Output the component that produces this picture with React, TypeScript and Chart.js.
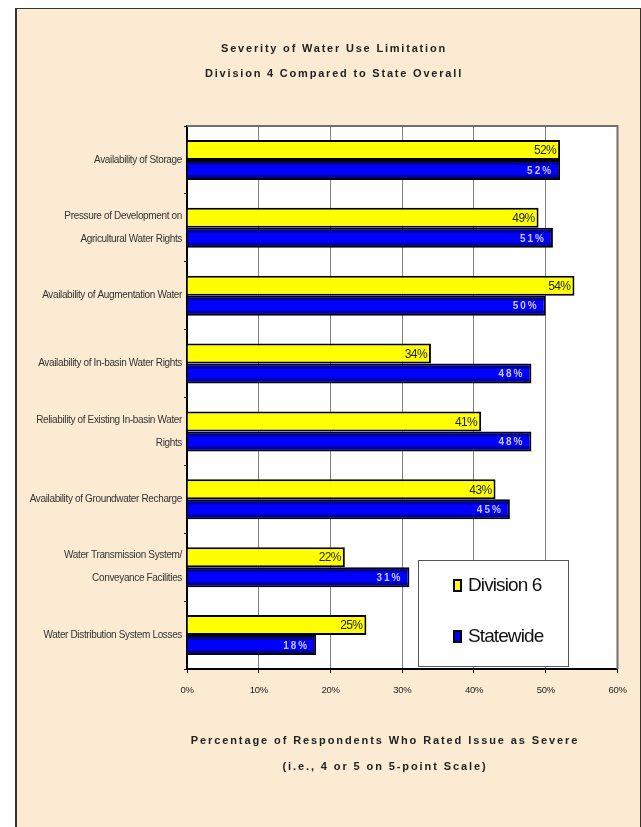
import React, { useEffect, useRef } from "react";
import { Chart, registerables } from "chart.js";

Chart.register(...registerables);

const categories: (string | string[])[] = [
  "Availability of Storage",
  ["Pressure of Development on", "Agricultural Water Rights"],
  "Availability of Augmentation Water",
  "Availability of In-basin Water Rights",
  ["Reliability of Existing In-basin Water", "Rights"],
  "Availability of Groundwater Recharge",
  ["Water Transmission System/", "Conveyance Facilities"],
  "Water Distribution System Losses",
];
const division6 = [52, 49, 54, 34, 41, 43, 22, 25];
const statewide = [52, 51, 50, 48, 48, 45, 31, 18];
const seriesNames = ["Division 6", "Statewide"];
const seriesColors = ["#FFFF00", "#0000FF"];
const titleLines = ["Severity of Water Use Limitation", "Division 4 Compared to State Overall"];
const axisTitleLines = [
  "Percentage of Respondents Who Rated Issue as Severe",
  "(i.e., 4 or 5 on 5-point Scale)",
];
const xTicks = [0, 10, 20, 30, 40, 50, 60];

const NARROW = "'Liberation Sans Narrow', 'Arial Narrow', 'Liberation Sans', Arial, sans-serif";
const SANS = "'Liberation Sans', Arial, sans-serif";

const W = 623;
const H = 818;

const decorPlugin = {
  id: "decor",
  beforeDraw(chart: any) {
    const { ctx, chartArea: a } = chart;
    ctx.save();
    ctx.fillStyle = "#FFFFFF";
    ctx.fillRect(a.left, a.top, a.right - a.left, a.bottom - a.top);
    ctx.restore();
    // slightly condensed look for the axis tick labels drawn by the scales
    (ctx as any).letterSpacing = "-0.35px";
  },
  afterDatasetDraw(chart: any, args: any) {
    if (args.index !== 1) return;
    const { ctx } = chart;
    const meta = chart.getDatasetMeta(1);
    ctx.save();
    ctx.fillStyle = "#00009A";
    meta.data.forEach((el: any) => {
      const p = el.getProps(["x", "y", "base", "height"], true);
      const left = Math.min(p.base, p.x);
      const w = Math.abs(p.x - p.base) - 2;
      const top = p.y - p.height / 2 + 2;
      const bot = p.y + p.height / 2 - 2;
      ctx.fillRect(left, top, w, 3);
      ctx.fillRect(left, bot - 3, w, 3);
    });
    ctx.restore();
  },
  afterDatasetsDraw(chart: any) {
    const { ctx } = chart;
    ctx.save();
    chart.data.datasets.forEach((ds: any, di: number) => {
      const meta = chart.getDatasetMeta(di);
      meta.data.forEach((el: any, i: number) => {
        const p = el.getProps(["x", "y"], true);
        const txt = ds.data[i] + "%";
        ctx.textAlign = "right";
        ctx.textBaseline = "middle";
        if (di === 0) {
          ctx.font = `12px ${NARROW}`;
          ctx.fillStyle = "#222222";
          (ctx as any).letterSpacing = "-0.6px";
          ctx.fillText(txt, p.x - 4, p.y + 1);
        } else {
          ctx.font = `bold 10px ${SANS}`;
          ctx.fillStyle = "#C8C8FF";
          (ctx as any).letterSpacing = "2px";
          ctx.fillText(txt, p.x - 7, p.y + 1);
        }
      });
    });
    ctx.restore();
  },
  afterDraw(chart: any) {
    const { ctx, chartArea: a } = chart;
    ctx.save();
    ctx.strokeStyle = "#707070";
    ctx.lineWidth = 2;
    ctx.beginPath();
    ctx.moveTo(a.left, a.top);
    ctx.lineTo(a.right, a.top);
    ctx.lineTo(a.right, a.bottom);
    ctx.stroke();

    ctx.fillStyle = "#222222";
    ctx.textAlign = "center";
    ctx.textBaseline = "middle";
    ctx.font = `bold 11px ${SANS}`;
    (ctx as any).letterSpacing = "1.8px";
    ctx.fillText(titleLines[0], 318, 40);
    ctx.fillText(titleLines[1], 318, 65);
    (ctx as any).letterSpacing = "1.9px";
    ctx.fillText(axisTitleLines[0], 369, 732);
    ctx.fillText(axisTitleLines[1], 369, 758);

    const lx = 402, ly = 551, lw = 150, lh = 106;
    ctx.fillStyle = "#FFFFFF";
    ctx.fillRect(lx, ly, lw, lh);
    ctx.strokeStyle = "#555555";
    ctx.lineWidth = 1;
    ctx.strokeRect(lx + 0.5, ly + 0.5, lw, lh);
    const rows = [576, 627];
    chart.data.datasets.forEach((ds: any, i: number) => {
      const cy = rows[i];
      ctx.fillStyle = "#000000";
      ctx.fillRect(437, cy - 6, 9, 13);
      ctx.fillStyle = ds.backgroundColor;
      ctx.fillRect(439, cy - 4, 5, 9);
      ctx.fillStyle = "#111111";
      ctx.textAlign = "left";
      ctx.textBaseline = "middle";
      ctx.font = `19px ${NARROW}`;
      (ctx as any).letterSpacing = "-0.9px";
      ctx.fillText(ds.label, 452, cy + 1);
    });
    ctx.restore();
  },
};

export default function App() {
  const ref = useRef<HTMLCanvasElement | null>(null);
  useEffect(() => {
    if (!ref.current) return;
    const chart = new Chart(ref.current, {
      type: "bar",
      data: {
        labels: categories,
        datasets: [
          {
            label: seriesNames[0],
            data: division6,
            backgroundColor: seriesColors[0],
            borderColor: "#000000",
            borderWidth: 2,
            barPercentage: 1,
            categoryPercentage: 0.59,
          },
          {
            label: seriesNames[1],
            data: statewide,
            backgroundColor: seriesColors[1],
            borderColor: "#000000",
            borderWidth: 2,
            barPercentage: 1,
            categoryPercentage: 0.59,
          },
        ],
      },
      options: {
        indexAxis: "y",
        animation: false,
        responsive: false,
        maintainAspectRatio: false,
        layout: { padding: { top: 117, right: 21, left: 0, bottom: 0 } },
        plugins: {
          legend: { display: false },
          title: { display: false },
          tooltip: { enabled: false },
        },
        scales: {
          x: {
            min: 0,
            max: 60,
            afterBuildTicks: (s: any) => {
              s.ticks = xTicks.map((v) => ({ value: v }));
            },
            afterFit: (s: any) => {
              s.height = 158;
            },
            ticks: {
              callback: (v: any) => v + "%",
              font: { family: SANS, size: 9.5 },
              color: "#222222",
              padding: 12,
              maxRotation: 0,
            },
            grid: {
              color: "#808080",
              lineWidth: 1,
              tickColor: "#000000",
              tickLength: 4,
            },
            border: { display: true, color: "#000000", width: 2 },
          },
          y: {
            afterFit: (s: any) => {
              s.width = 171;
            },
            ticks: {
              font: { family: NARROW, size: 10, lineHeight: 2.3 },
              color: "#333333",
              padding: 2,
              autoSkip: false,
            },
            grid: {
              drawOnChartArea: false,
              tickColor: "#000000",
              tickLength: 3,
              offset: true,
            },
            border: { display: true, color: "#000000", width: 2 },
          },
        },
      },
      plugins: [decorPlugin],
    } as any);
    return () => chart.destroy();
  }, []);

  return (
    <div
      style={{
        position: "absolute",
        left: 15,
        top: 8,
        width: 623,
        height: 830,
        borderTop: "1px solid #333",
        borderLeft: "2px solid #333",
        borderRight: "1px solid #333",
        background: "#FBEBD3",
      }}
    >
      <canvas ref={ref} width={W} height={H} style={{ position: "absolute", left: -1, top: 0, width: W, height: H }} />
    </div>
  );
}
